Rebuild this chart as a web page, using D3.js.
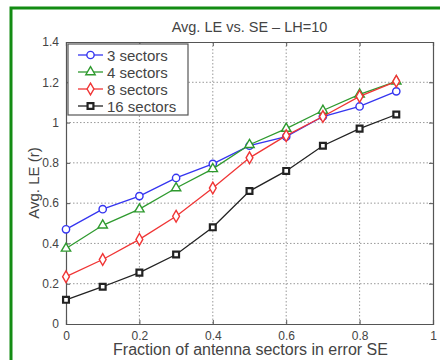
<!DOCTYPE html>
<html>
<head>
<meta charset="utf-8">
<script src="https://cdn.jsdelivr.net/npm/d3@7"></script>
<style>
  html, body { margin: 0; padding: 0; background: #fff; }
  svg { display: block; font-family: "Liberation Sans", Arial, sans-serif; }
</style>
</head>
<body>
<div id="chart"></div>
<script>
// data
const fractions = [0, 0.1, 0.2, 0.3, 0.4, 0.5, 0.6, 0.7, 0.8, 0.9];
const sectors3  = [0.47, 0.57, 0.635, 0.725, 0.795, 0.885, 0.93, 1.03, 1.08, 1.155];
const sectors4  = [0.375, 0.49, 0.57, 0.675, 0.77, 0.89, 0.97, 1.06, 1.14, 1.205];
const sectors8  = [0.235, 0.32, 0.42, 0.535, 0.675, 0.825, 0.935, 1.03, 1.13, 1.205];
const sectors16 = [0.12, 0.185, 0.255, 0.345, 0.48, 0.66, 0.76, 0.885, 0.97, 1.04];
const seriesNames = ["3 sectors", "4 sectors", "8 sectors", "16 sectors"];
const xTicks = [0, 0.2, 0.4, 0.6, 0.8, 1];
const yTicks = [0, 0.2, 0.4, 0.6, 0.8, 1, 1.2, 1.4];

const series = [
  { name: seriesNames[0], values: sectors3,  color: "#3535f0", marker: "circle" },
  { name: seriesNames[1], values: sectors4,  color: "#2f9a2f", marker: "triangle" },
  { name: seriesNames[2], values: sectors8,  color: "#f03535", marker: "diamond" },
  { name: seriesNames[3], values: sectors16, color: "#222222", marker: "square" }
];

const width = 440, height = 360;
const margin = { top: 42, right: 7, bottom: 36, left: 66 };
const innerW = width - margin.left - margin.right;
const innerH = height - margin.top - margin.bottom;

const svg = d3.select("#chart").append("svg")
  .attr("width", width)
  .attr("height", height);

// green frame around the figure
svg.append("rect")
  .attr("x", 11).attr("y", 8)
  .attr("width", 460).attr("height", 400)
  .attr("fill", "none")
  .attr("stroke", "#138c13")
  .attr("stroke-width", 3);

const g = svg.append("g")
  .attr("transform", `translate(${margin.left},${margin.top})`);

const x = d3.scaleLinear().domain([0, 1]).range([0, innerW]);
const y = d3.scaleLinear().domain([0, 1.4]).range([innerH, 0]);

// grid (dotted, matlab style)
g.append("g").selectAll("line")
  .data(xTicks.slice(1, -1))
  .join("line")
  .attr("x1", d => x(d)).attr("x2", d => x(d))
  .attr("y1", 0).attr("y2", innerH)
  .attr("stroke", "#999").attr("stroke-width", 1)
  .attr("stroke-dasharray", "1.5,2");

g.append("g").selectAll("line")
  .data(yTicks.slice(1, -1))
  .join("line")
  .attr("x1", 0).attr("x2", innerW)
  .attr("y1", d => y(d)).attr("y2", d => y(d))
  .attr("stroke", "#999").attr("stroke-width", 1)
  .attr("stroke-dasharray", "1.5,2");

// axes: ticks pointing inward, box all round
const fmt = d => d3.format("~g")(d);
const axisColor = "#555";

const xAxis = g.append("g")
  .attr("transform", `translate(0,${innerH})`)
  .call(d3.axisBottom(x).tickValues(xTicks).tickFormat(fmt).tickSize(-4).tickPadding(7));
const yAxis = g.append("g")
  .call(d3.axisLeft(y).tickValues(yTicks).tickFormat(fmt).tickSize(-4).tickPadding(7));
const xTop = g.append("g")
  .call(d3.axisTop(x).tickValues(xTicks).tickFormat("").tickSize(-4));
const yRight = g.append("g")
  .attr("transform", `translate(${innerW},0)`)
  .call(d3.axisRight(y).tickValues(yTicks).tickFormat("").tickSize(-4));

[xAxis, yAxis, xTop, yRight].forEach(a => {
  a.select(".domain").attr("stroke", axisColor).attr("stroke-width", 1.2);
  a.selectAll(".tick line").attr("stroke", axisColor);
  a.selectAll("text").attr("fill", "#444").style("font-size", "12px");
});

// lines
const line = d3.line()
  .x((d, i) => x(fractions[i]))
  .y(d => y(d));

const symbolFor = {
  circle: d3.symbol().type(d3.symbolCircle).size(42),
  triangle: d3.symbol().type(d3.symbolTriangle).size(38),
  diamond: d3.symbol().type(d3.symbolDiamond).size(40),
  square: d3.symbol().type(d3.symbolSquare).size(34)
};

series.forEach(s => {
  g.append("path")
    .datum(s.values)
    .attr("fill", "none")
    .attr("stroke", s.color)
    .attr("stroke-width", 1.3)
    .attr("d", line);

  g.append("g").selectAll("path")
    .data(s.values)
    .join("path")
    .attr("transform", (d, i) => `translate(${x(fractions[i])},${y(d)})`)
    .attr("d", symbolFor[s.marker]())
    .attr("fill", "#fff")
    .attr("stroke", s.color)
    .attr("stroke-width", s.marker === "square" ? 2.2 : 1.4);
});

// legend
const legend = g.append("g").attr("transform", "translate(2,2)");
legend.append("rect")
  .attr("width", 120).attr("height", 71)
  .attr("fill", "#fff")
  .attr("stroke", axisColor).attr("stroke-width", 1.2);

series.forEach((s, i) => {
  const row = legend.append("g").attr("transform", `translate(0,${11 + i * 17})`);
  row.append("line")
    .attr("x1", 10).attr("x2", 35)
    .attr("stroke", s.color).attr("stroke-width", 1.3);
  row.append("path")
    .attr("transform", "translate(22.5,0)")
    .attr("d", symbolFor[s.marker]())
    .attr("fill", "#fff")
    .attr("stroke", s.color)
    .attr("stroke-width", s.marker === "square" ? 2.2 : 1.4);
  row.append("text")
    .attr("x", 39).attr("y", 5.5)
    .attr("fill", "#444")
    .style("font-size", "15px")
    .text(s.name);
});

// titles
svg.append("text")
  .attr("x", margin.left + innerW / 2).attr("y", 32)
  .attr("text-anchor", "middle")
  .attr("fill", "#444")
  .style("font-size", "14.5px")
  .text("Avg. LE vs. SE \u2013 LH=10");

svg.append("text")
  .attr("x", margin.left + innerW / 2 + 1).attr("y", 355)
  .attr("text-anchor", "middle")
  .attr("fill", "#444")
  .style("font-size", "16px")
  .text("Fraction of antenna sectors in error SE");

svg.append("text")
  .attr("transform", `translate(39,${margin.top + innerH / 2}) rotate(-90)`)
  .attr("text-anchor", "middle")
  .attr("fill", "#444")
  .style("font-size", "15px")
  .text("Avg. LE (r)");
</script>
</body>
</html>
